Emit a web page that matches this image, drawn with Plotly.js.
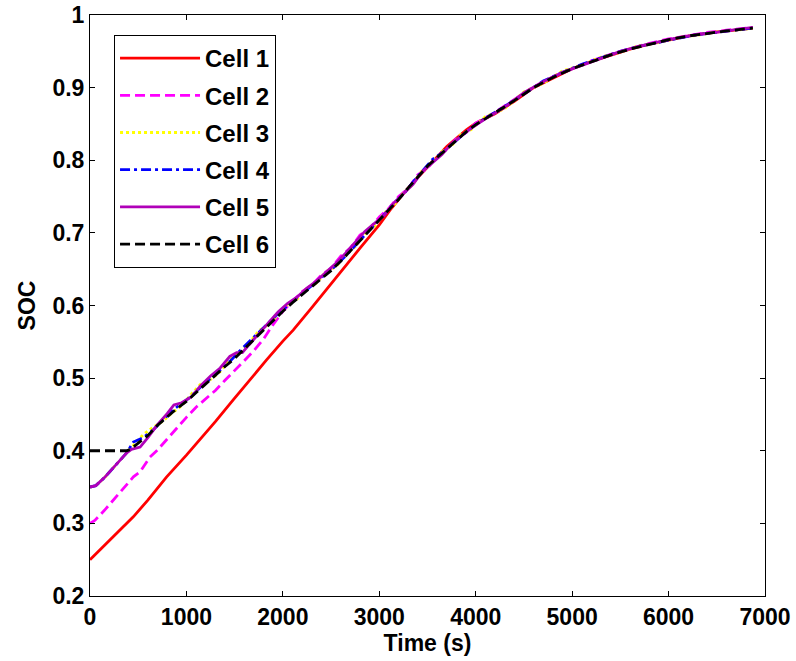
<!DOCTYPE html>
<html>
<head>
<meta charset="utf-8">
<script src="https://cdn.plot.ly/plotly-3.0.1.min.js"></script>
<style>html,body{margin:0;padding:0;background:#fff;}</style>
</head>
<body>
<div id="chart" style="width:796px;height:661px;"></div>
<script>
// Cell names
const cellNames = ["Cell 1", "Cell 2", "Cell 3", "Cell 4", "Cell 5", "Cell 6"];

// Cell 1
const t1 = [0, 100, 200, 300, 449, 600, 795, 1000, 1140, 1300, 1485, 1650, 1831, 2000, 2107, 2300, 2500, 2625, 2800, 3000, 3109, 3300, 3523, 3700, 3903, 4000, 4200, 4400, 4600, 4800, 5000, 5200, 5400, 5600, 5800, 6000, 6200, 6400, 6600, 6874];
const soc1 = [0.250, 0.263, 0.277, 0.290, 0.309, 0.332, 0.364, 0.394, 0.415, 0.440, 0.470, 0.497, 0.525, 0.551, 0.566, 0.597, 0.630, 0.651, 0.679, 0.711, 0.731, 0.762, 0.793, 0.819, 0.842, 0.851, 0.864, 0.881, 0.900, 0.913, 0.926, 0.936, 0.945, 0.953, 0.960, 0.966, 0.971, 0.975, 0.978, 0.982];

// Cell 2
const t2 = [0, 50, 150, 250, 350, 450, 520, 620, 700, 800, 900, 1000, 1100, 1200, 1300, 1400, 1500, 1600, 1700, 1800, 1900, 2000, 2100, 2200, 2300, 2400, 2500, 2600, 2700, 2800, 2900, 3000, 3100, 3200, 3300, 3400, 3500, 3600, 3700, 3800, 3900, 4000, 4200, 4400, 4600, 4800, 5000, 5200, 5400, 5600, 5800, 6000, 6200, 6400, 6600, 6874];
const soc2 = [0.300, 0.304, 0.318, 0.333, 0.348, 0.364, 0.371, 0.391, 0.401, 0.416, 0.432, 0.446, 0.460, 0.472, 0.483, 0.497, 0.510, 0.524, 0.538, 0.554, 0.574, 0.592, 0.606, 0.619, 0.628, 0.642, 0.651, 0.668, 0.679, 0.697, 0.706, 0.722, 0.734, 0.750, 0.761, 0.780, 0.789, 0.806, 0.815, 0.830, 0.838, 0.851, 0.866, 0.883, 0.901, 0.915, 0.926, 0.937, 0.946, 0.954, 0.961, 0.967, 0.972, 0.976, 0.979, 0.983];

// Cells 3 and 4 share time stamps
const t34 = [0, 60, 150, 250, 380, 450, 550, 650, 750, 850, 950, 1050, 1150, 1250, 1350, 1450, 1550, 1650, 1750, 1850, 1950, 2050, 2150, 2250, 2350, 2450, 2550, 2650, 2750, 2850, 2950, 3050, 3150, 3250, 3350, 3450, 3550, 3650, 3750, 3850, 3950, 4100, 4300, 4500, 4700, 4900, 5100, 5300, 5500, 5700, 5900, 6100, 6300, 6500, 6700, 6874];
const soc3 = [0.350, 0.352, 0.363, 0.378, 0.397, 0.408, 0.422, 0.432, 0.440, 0.452, 0.462, 0.478, 0.492, 0.498, 0.509, 0.526, 0.534, 0.548, 0.565, 0.574, 0.587, 0.602, 0.609, 0.624, 0.631, 0.647, 0.653, 0.670, 0.681, 0.699, 0.709, 0.727, 0.738, 0.755, 0.767, 0.787, 0.797, 0.812, 0.820, 0.836, 0.842, 0.860, 0.871, 0.894, 0.906, 0.923, 0.931, 0.942, 0.949, 0.958, 0.962, 0.969, 0.972, 0.977, 0.979, 0.982];
const soc4 = [0.350, 0.352, 0.363, 0.378, 0.397, 0.412, 0.418, 0.428, 0.441, 0.455, 0.465, 0.475, 0.488, 0.500, 0.512, 0.523, 0.537, 0.550, 0.562, 0.576, 0.589, 0.600, 0.611, 0.622, 0.633, 0.645, 0.655, 0.668, 0.683, 0.697, 0.711, 0.725, 0.741, 0.753, 0.770, 0.785, 0.801, 0.810, 0.822, 0.833, 0.844, 0.858, 0.874, 0.892, 0.909, 0.921, 0.932, 0.941, 0.950, 0.957, 0.963, 0.968, 0.973, 0.976, 0.980, 0.982];

// Cell 5
const t5 = [0, 60, 150, 250, 380, 430, 520, 600, 700, 800, 870, 950, 1050, 1150, 1250, 1350, 1450, 1520, 1580, 1650, 1750, 1850, 1950, 2050, 2150, 2250, 2350, 2450, 2550, 2650, 2750, 2850, 2950, 3050, 3150, 3250, 3350, 3450, 3550, 3650, 3750, 3850, 3950, 4100, 4300, 4500, 4700, 4900, 5100, 5300, 5500, 5700, 5900, 6100, 6300, 6500, 6700, 6874];
const soc5 = [0.350, 0.352, 0.363, 0.378, 0.397, 0.402, 0.405, 0.418, 0.436, 0.451, 0.463, 0.466, 0.474, 0.490, 0.503, 0.514, 0.530, 0.535, 0.535, 0.546, 0.561, 0.576, 0.591, 0.603, 0.612, 0.624, 0.634, 0.646, 0.658, 0.672, 0.687, 0.702, 0.713, 0.724, 0.741, 0.754, 0.767, 0.785, 0.797, 0.808, 0.823, 0.834, 0.844, 0.857, 0.873, 0.893, 0.908, 0.921, 0.931, 0.941, 0.950, 0.957, 0.963, 0.969, 0.973, 0.977, 0.980, 0.983];

// Cell 6
const t6 = [0, 380, 420, 500, 600, 700, 800, 900, 1000, 1100, 1200, 1300, 1400, 1500, 1600, 1700, 1800, 1900, 2000, 2100, 2200, 2300, 2400, 2500, 2600, 2700, 2800, 2900, 3000, 3100, 3200, 3300, 3400, 3500, 3600, 3700, 3800, 3900, 4000, 4200, 4400, 4600, 4800, 5000, 5200, 5400, 5600, 5800, 6000, 6200, 6400, 6600, 6874];
const soc6 = [0.400, 0.400, 0.402, 0.410, 0.421, 0.435, 0.447, 0.458, 0.468, 0.480, 0.493, 0.504, 0.516, 0.527, 0.540, 0.553, 0.566, 0.580, 0.592, 0.604, 0.615, 0.626, 0.637, 0.648, 0.661, 0.675, 0.690, 0.704, 0.717, 0.731, 0.746, 0.762, 0.777, 0.792, 0.804, 0.816, 0.828, 0.839, 0.849, 0.865, 0.882, 0.900, 0.914, 0.926, 0.936, 0.945, 0.953, 0.960, 0.966, 0.971, 0.975, 0.978, 0.982];

const xTicks = [0, 1000, 2000, 3000, 4000, 5000, 6000, 7000];
const yTicks = [0.2, 0.3, 0.4, 0.5, 0.6, 0.7, 0.8, 0.9, 1];

const FONT = "Liberation Sans, Arial, sans-serif";
const LW = 2.8;

function tr(x, y, i, color, dash) {
  return {x: x, y: y, name: cellNames[i], type: "scatter", mode: "lines",
    legendgroup: "g" + i,
    line: {color: color, width: LW, dash: dash}};
}

const data = [
  tr(t1, soc1, 0, "#ff0000", "solid"),
  tr(t2, soc2, 1, "#ff00ff", "10px,5px"),
  tr(t34, soc3, 2, "#ffff00", "3px,3px"),
  tr(t34, soc4, 3, "#0000ff", "10px,4px,3px,4px"),
  tr(t5, soc5, 4, "#b000b8", "solid"),
  tr(t6, soc6, 5, "#000000", "10px,5px")
];

const axisCommon = {
  showgrid: false, zeroline: false, showline: true, linecolor: "#000", linewidth: 1,
  ticks: "inside", ticklen: 5, tickcolor: "#000", mirror: "ticks",
  tickfont: {family: FONT, size: 23, color: "#000", weight: "bold"}
};

const layout = {
  width: 796, height: 661,
  margin: {l: 90, r: 31, t: 15, b: 65},
  paper_bgcolor: "#fff", plot_bgcolor: "#fff",
  showlegend: true,
  xaxis: Object.assign({}, axisCommon, {
    range: [0, 7000], tickvals: xTicks, ticktext: xTicks.map(String),
    title: {text: "Time (s)", font: {family: FONT, size: 23, color: "#000", weight: "bold"}, standoff: 2}
  }),
  yaxis: Object.assign({}, axisCommon, {
    range: [0.2, 1], tickvals: yTicks, ticktext: yTicks.map(String),
    title: {text: "SOC", font: {family: FONT, size: 23, color: "#000", weight: "bold"}, standoff: 10}
  }),
  legend: {
    x: 0.0356, y: 0.9656, xanchor: "left", yanchor: "top",
    bgcolor: "#fff", bordercolor: "#000", borderwidth: 1,
    font: {family: FONT, size: 24, color: "#000", weight: "bold"},
    tracegroupgap: 3, itemwidth: 80, traceorder: "grouped"
  }
};

Plotly.newPlot("chart", data, layout, {displayModeBar: false, staticPlot: true});
</script>
</body>
</html>
